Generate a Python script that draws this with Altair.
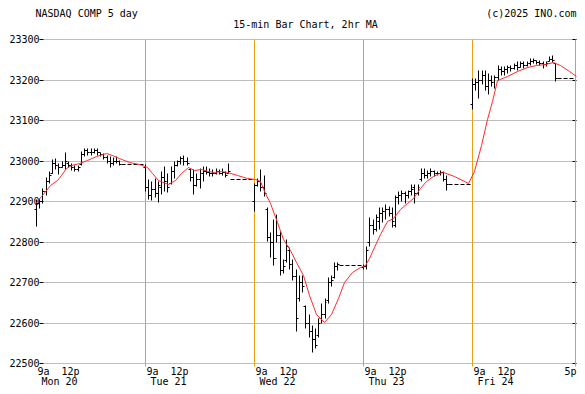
import altair as alt
import pandas as pd

FONT = "DejaVu Sans Mono"
ORANGE = "#E8A010"
SLOTS_PER_DAY = 34  # 15-min slots per day column (session + overnight gap)

days = ["Mon 20", "Tue 21", "Wed 22", "Thu 23", "Fri 24"]
time_labels = ["9a", "12p"]

# ---- 15-min OHLC bars, 27 per day ----
mon_high = [22905, 22908, 22933, 22960, 22973, 23004, 23006, 22994, 22999, 23020, 22998, 22993, 22988, 22990,
            23024, 23030, 23030, 23032, 23030, 23030, 23022, 23018, 23014, 23010, 23008, 23010, 23002]
mon_low = [22839, 22882, 22895, 22915, 22945, 22968, 22980, 22967, 22983, 22980, 22983, 22977, 22973, 22973,
           22990, 23010, 23014, 23014, 23018, 23014, 23010, 23004, 22993, 22983, 22990, 22993, 22990]
mon_open = [22880, 22895, 22900, 22925, 22950, 22970, 22995, 22990, 22985, 22990, 22995, 22990, 22985, 22980,
            22992, 23015, 23025, 23020, 23022, 23025, 23020, 23015, 23008, 23000, 22995, 23000, 22998]
mon_close = [22895, 22900, 22925, 22950, 22965, 22995, 22990, 22985, 22990, 23000, 22990, 22985, 22980, 22985,
             23015, 23025, 23020, 23022, 23025, 23020, 23015, 23008, 23000, 22995, 23000, 22998, 22992]

tue_high = [22992, 22954, 22950, 22958, 22950, 22974, 22986, 22970, 22986, 22998, 23002, 23011, 23013, 23008,
            22982, 22978, 22970, 22982, 22986, 22986, 22982, 22978, 22982, 22980, 22982, 22974, 22993]
tue_low = [22925, 22905, 22902, 22909, 22897, 22917, 22925, 22921, 22941, 22958, 22986, 22992, 22990, 22990,
           22950, 22917, 22937, 22933, 22950, 22966, 22962, 22962, 22966, 22966, 22965, 22959, 22968]
tue_open = [22985, 22935, 22915, 22930, 22920, 22935, 22960, 22950, 22945, 22975, 22990, 22998, 23005, 23000,
            22980, 22960, 22940, 22955, 22970, 22975, 22972, 22970, 22968, 22975, 22970, 22972, 22970]
tue_close = [22935, 22915, 22930, 22920, 22940, 22960, 22950, 22935, 22975, 22990, 22998, 23005, 23000, 22995,
             22960, 22940, 22955, 22970, 22975, 22972, 22970, 22968, 22975, 22970, 22972, 22965, 22975]

wed_high = [22945, 22957, 22979, 22965, 22884, 22823, 22855, 22867, 22827, 22758, 22807, 22786, 22758, 22733,
            22717, 22717, 22644, 22620, 22595, 22587, 22611, 22648, 22660, 22713, 22717, 22750, 22750]
wed_low = [22876, 22937, 22924, 22912, 22802, 22762, 22741, 22798, 22717, 22721, 22750, 22733, 22705, 22579,
           22652, 22676, 22587, 22563, 22526, 22538, 22563, 22599, 22611, 22648, 22689, 22709, 22730]
wed_open = [22900, 22940, 22950, 22935, 22880, 22810, 22800, 22760, 22815, 22730, 22755, 22780, 22745, 22715,
            22660, 22700, 22640, 22600, 22580, 22560, 22570, 22610, 22620, 22655, 22700, 22712, 22740]
wed_close = [22940, 22950, 22935, 22920, 22810, 22800, 22760, 22815, 22730, 22740, 22790, 22745, 22715, 22610,
             22700, 22690, 22600, 22580, 22560, 22545, 22600, 22620, 22650, 22700, 22705, 22740, 22745]

thu_high = [22745, 22790, 22860, 22855, 22867, 22884, 22884, 22892, 22888, 22884, 22916, 22924, 22928, 22924,
            22928, 22941, 22941, 22941, 22981, 22981, 22977, 22981, 22977, 22975, 22977, 22975, 22965]
thu_low = [22733, 22733, 22790, 22819, 22827, 22831, 22847, 22855, 22863, 22835, 22835, 22892, 22900, 22896,
           22908, 22916, 22896, 22916, 22950, 22957, 22957, 22961, 22961, 22963, 22965, 22949, 22927]
thu_open = [22738, 22740, 22800, 22840, 22830, 22850, 22870, 22875, 22880, 22870, 22840, 22910, 22915, 22920,
            22915, 22925, 22935, 22920, 22955, 22970, 22965, 22970, 22975, 22968, 22970, 22972, 22955]
thu_close = [22740, 22780, 22840, 22830, 22860, 22870, 22875, 22880, 22870, 22850, 22910, 22915, 22920, 22915,
             22925, 22930, 22920, 22935, 22970, 22965, 22970, 22975, 22968, 22970, 22972, 22955, 22943]

fri_high = [23204, 23204, 23224, 23224, 23224, 23216, 23212, 23210, 23237, 23233, 23233, 23237, 23237, 23241,
            23246, 23246, 23245, 23246, 23253, 23254, 23249, 23249, 23245, 23245, 23257, 23261, 23241]
fri_low = [23127, 23175, 23155, 23188, 23175, 23163, 23185, 23180, 23200, 23210, 23212, 23216, 23220, 23226,
           23224, 23230, 23228, 23233, 23237, 23241, 23238, 23235, 23228, 23233, 23245, 23243, 23196]
fri_open = [23140, 23190, 23195, 23200, 23210, 23185, 23200, 23195, 23205, 23225, 23220, 23225, 23230, 23228,
            23235, 23230, 23240, 23235, 23240, 23245, 23248, 23242, 23240, 23238, 23245, 23250, 23240]
fri_close = [23190, 23195, 23200, 23210, 23185, 23200, 23195, 23205, 23225, 23220, 23225, 23230, 23228, 23235,
             23230, 23240, 23235, 23240, 23245, 23248, 23242, 23240, 23238, 23240, 23250, 23248, 23204]

# after-hours flat (dashed) price per day and session column length in slots
afterhours_price = [22992, 22955, 22741, 22943, 23204]
column_slots = [34, 34, 34, 34, 32]

# ---- 2hr moving average (slot, value) ----
ma_slot = [0, 2, 4.3, 6.4, 7.9, 9.4, 11, 13.5, 16, 18.7, 21.8, 23.8, 25.8, 29, 32,
           34.6, 36.1, 38.2, 41.2, 43.3, 45.3, 47.4, 49.4, 51.5, 53.5, 55.6, 57.6, 59.7, 62.8, 65.8,
           68.4, 69.9, 71.5, 73, 75.1, 77.1, 79.2, 81.2, 83.3, 85.3, 87.4, 89.9, 92, 94.1, 96.1, 98.7, 101.2,
           102.5, 104, 105.3, 107.4, 109.4, 111.5, 113.5, 115.6, 117.6, 119.7, 121.8, 123.8, 125.8, 127, 130.5, 134.6,
           136.6, 138.7, 140.7, 142.2, 143.8, 146.9, 150, 153.1, 156.1, 158.7, 161.2, 163.3, 166.4, 168.4]
ma_value = [22898, 22916, 22940, 22953, 22965, 22981, 22988, 22993, 23001, 23012, 23018, 23014, 23006, 22996, 22992,
            22983, 22969, 22953, 22942, 22953, 22969, 22983, 22977, 22980, 22973, 22971, 22973, 22971, 22965, 22958,
            22954, 22949, 22920, 22896, 22847, 22806, 22778, 22749, 22717, 22668, 22620, 22602, 22620, 22660, 22701, 22725, 22738,
            22742, 22760, 22786, 22819, 22851, 22859, 22880, 22896, 22908, 22932, 22949, 22961, 22969, 22971, 22961, 22945,
            22973, 23038, 23103, 23148, 23200, 23209, 23221, 23232, 23237, 23239, 23244, 23237, 23221, 23209]

y_ticks = list(range(22500, 23301, 100))

# ---- tables ----
ohlc = [(mon_high, mon_low, mon_open, mon_close), (tue_high, tue_low, tue_open, tue_close),
        (wed_high, wed_low, wed_open, wed_close), (thu_high, thu_low, thu_open, thu_close),
        (fri_high, fri_low, fri_open, fri_close)]
rows = []
for d, (hi, lo, op, cl) in enumerate(ohlc):
    for k in range(len(hi)):
        rows.append({"slot": d * SLOTS_PER_DAY + k, "high": hi[k], "low": lo[k], "open": op[k], "close": cl[k]})
bars_df = pd.DataFrame(rows)

ah_df = pd.DataFrame({
    "start": [d * SLOTS_PER_DAY + 26.6 for d in range(5)],
    "end": [d * SLOTS_PER_DAY + column_slots[d] for d in range(5)],
    "price": afterhours_price,
})
vline_df = pd.DataFrame({"slot": [d * SLOTS_PER_DAY + column_slots[d] for d in range(5)]})
ma_df = pd.DataFrame({"slot": ma_slot, "ma": ma_value})

t9_df = pd.DataFrame({"slot": [d * SLOTS_PER_DAY + 0.3 for d in range(5)], "label": [time_labels[0]] * 5})
t12_df = pd.DataFrame({"slot": [d * SLOTS_PER_DAY + 10.6 for d in range(5)], "label": [time_labels[1]] * 5})
day_df = pd.DataFrame({"slot": [d * SLOTS_PER_DAY + 1.6 for d in range(5)], "label": days})

# x scale: slot 0 sits 7px left of the plot's left edge
PX_PER_SLOT = 109 / 34
PLOT_W = 533
X_MIN = 7 / PX_PER_SLOT
X_MAX = X_MIN + PLOT_W / PX_PER_SLOT
end_df = pd.DataFrame({"slot": [X_MAX], "label": ["5p"]})

x_scale = alt.Scale(domain=[X_MIN, X_MAX], nice=False, zero=False, round=True)
y_scale = alt.Scale(domain=[22500, 23300], nice=False, zero=False, round=True)

left_axis = alt.Axis(values=y_ticks, orient="left", grid=True, gridColor="#BEBEBE", gridWidth=1,
                     tickColor="black", tickSize=4, tickWidth=1, labelPadding=0, domain=False,
                     labelFont=FONT, labelFontSize=10, labelColor="black", title=None, format="d",
                     labelFlush=False, labelOverlap=False, translate=0)
right_axis = alt.Axis(values=y_ticks, orient="right", grid=False, offset=-4, tickColor="black",
                      tickSize=4, labels=False, domain=False, title=None, translate=0)

X = lambda f: alt.X(f, type="quantitative", scale=x_scale, axis=None)

vlines = alt.Chart(vline_df).mark_rule(color=ORANGE, strokeWidth=1).encode(
    x=X("slot"), y=alt.value(0), y2=alt.value(327))

bars = alt.Chart(bars_df).mark_rule(color="black", strokeWidth=1).encode(
    x=X("slot"), y=alt.Y("low:Q", scale=y_scale, axis=left_axis), y2="high:Q")

opens = alt.Chart(bars_df).transform_calculate(xo="datum.slot - 0.6").mark_rule(
    color="black", strokeWidth=1).encode(
    x=X("xo"), x2="slot:Q", y=alt.Y("open:Q", scale=y_scale, axis=None))

closes = alt.Chart(bars_df).transform_calculate(xc="datum.slot + 0.6").mark_rule(
    color="black", strokeWidth=1).encode(
    x=X("slot"), x2="xc:Q", y=alt.Y("close:Q", scale=y_scale, axis=None))

after = alt.Chart(ah_df).mark_rule(color="black", strokeWidth=1, strokeDash=[4, 2]).encode(
    x=X("start"), x2="end:Q", y=alt.Y("price:Q", scale=y_scale, axis=None))

ma = alt.Chart(ma_df).mark_line(color="#FF2A2A", strokeWidth=1).encode(
    x=X("slot"), y=alt.Y("ma:Q", scale=y_scale, axis=right_axis))


def txt(df, align, ypx):
    return alt.Chart(df).mark_text(font=FONT, fontSize=10, align=align, baseline="alphabetic",
                                   color="black").encode(x=X("slot"), y=alt.value(ypx), text="label:N")


t9 = txt(t9_df, "left", 335)
t12 = txt(t12_df, "center", 335)
t5 = txt(end_df, "right", 335)
tday = txt(day_df, "left", 345.5)


def title_text(s, align, xpx, ypx):
    return alt.Chart(pd.DataFrame({"label": [s]})).mark_text(
        font=FONT, fontSize=10, align=align, baseline="alphabetic", color="black").encode(
        x=alt.value(xpx), y=alt.value(ypx), text="label:N")


titles = [
    title_text("NASDAQ COMP 5 day", "left", -8, -23),
    title_text("15-min Bar Chart, 2hr MA", "center", 262, -12),
    title_text("(c)2025 INO.com", "right", 533, -23),
]

chart = alt.layer(vlines, bars, opens, closes, after, ma, t9, t12, t5, tday, *titles).resolve_axis(
    y="independent").properties(
    width=PLOT_W, height=324,
    autosize=alt.AutoSizeParams(type="none"),
    padding={"left": 35.5, "top": 31.5, "right": 0, "bottom": 22.5},
    background="white",
).configure_view(stroke=None)

chart.save("out.html", embed_options={"renderer": "svg", "actions": False})
